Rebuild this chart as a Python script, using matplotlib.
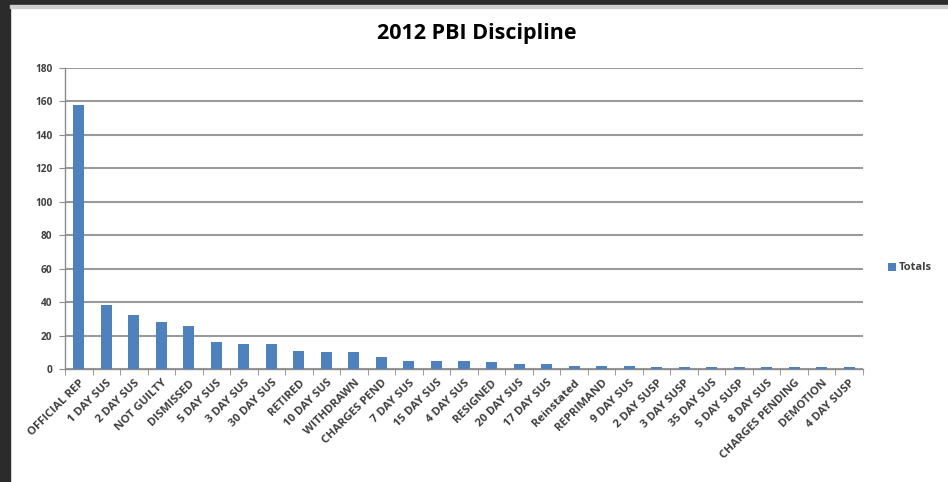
"""2012 PBI Discipline - totals per disposition, Excel style bar chart."""

import matplotlib

matplotlib.use("Agg")
import matplotlib.pyplot as plt
from matplotlib.patches import Rectangle
import numpy as np

categories = [
    "OFFICIAL REP", "1 DAY SUS", "2 DAY SUS", "NOT GUILTY", "DISMISSED",
    "5 DAY SUS", "3 DAY SUS", "30 DAY SUS", "RETIRED", "10 DAY SUS",
    "WITHDRAWN", "CHARGES PEND", "7 DAY SUS", "15 DAY SUS", "4 DAY SUS",
    "RESIGNED", "20 DAY SUS", "17 DAY SUS", "Reinstated", "REPRIMAND",
    "9 DAY SUS", "2 DAY SUSP", "3 DAY SUSP", "35 DAY SUS", "5 DAY SUSP",
    "8 DAY SUS", "CHARGES PENDING", "DEMOTION", "4 DAY SUSP",
]
totals = [158, 38, 32, 28, 26, 16, 15, 15, 11, 10, 10, 7, 5, 5, 5,
          4, 3, 3, 2, 2, 2, 1, 1, 1, 1, 1, 1, 1, 1]
yticks = [0, 20, 40, 60, 80, 100, 120, 140, 160, 180]

plt.rcParams["font.family"] = ["Open Sans", "DejaVu Sans"]

fig = plt.figure(figsize=(9.48, 4.82), dpi=100)
fig.patch.set_facecolor("white")

# dark screenshot frame (left + top) with the light line under the top band
fig.patches.append(Rectangle((0, 0), 10 / 948, 1, transform=fig.transFigure,
                             color="#2b2b2b", zorder=0))
fig.patches.append(Rectangle((0, 1 - 5 / 482), 1, 5 / 482, transform=fig.transFigure,
                             color="#2b2b2b", zorder=0))
fig.patches.append(Rectangle((10 / 948, 1 - 7.5 / 482), 1, 2.5 / 482,
                             transform=fig.transFigure, color="#cfcfcf", zorder=0))

ax = fig.add_axes([65 / 948, 1 - 369 / 482, (863 - 65) / 948, (369 - 68) / 482])

x = np.arange(len(categories))
ax.bar(x, totals, width=0.4, color="#4f81bd", zorder=3, label="Totals")

ax.set_xlim(-0.5, len(categories) - 0.5)
ax.set_ylim(0, 180)
ax.set_yticks(yticks)
ax.set_yticklabels([str(v) for v in yticks], fontweight="bold")
ax.yaxis.grid(True, color="#9a9a9a", linewidth=1.5)
ax.set_axisbelow(True)

for side in ("top", "right"):
    ax.spines[side].set_visible(False)
for side in ("left", "bottom"):
    ax.spines[side].set_color("#8c8c8c")
    ax.spines[side].set_linewidth(1.0)

ax.tick_params(axis="y", length=4, color="#8c8c8c", labelsize=7.3,
               labelcolor="#404040", pad=5)
ax.set_xticks(x)
ax.set_xticklabels(categories, rotation=45, ha="right", rotation_mode="anchor",
                   fontsize=8.2, fontweight="bold", color="#404040")
ax.tick_params(axis="x", which="major", length=0, pad=6)
ax.set_xticks(np.arange(-0.5, len(categories)), minor=True)
ax.tick_params(axis="x", which="minor", length=4, color="#8c8c8c")

fig.text(477 / 948, 1 - 34 / 482, "2012 PBI Discipline", ha="center", va="center",
         fontsize=15.5, fontweight="bold", color="black")

fig.legend(loc="center left", bbox_to_anchor=(884 / 948, 1 - 268 / 482),
           frameon=False, handlelength=0.7, handleheight=0.7,
           handletextpad=0.25, borderaxespad=0, labelcolor="#404040",
           prop={"weight": "bold", "size": 8})

fig.savefig("out.png", dpi=100)
